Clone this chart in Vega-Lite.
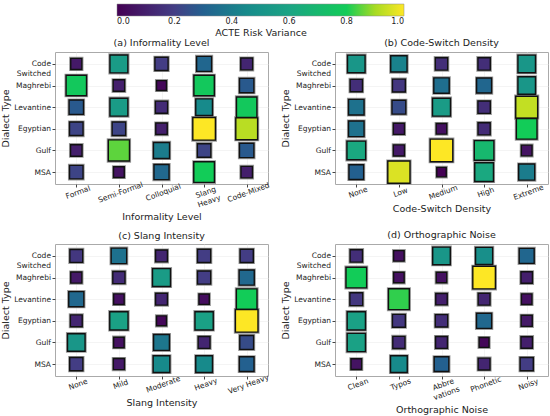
{
  "$schema": "https://vega.github.io/schema/vega-lite/v6.json",
  "padding": {"left": 0, "top": 4, "right": 4, "bottom": 2},
  "autosize": {"type": "pad"},
  "config": {
    "font": "DejaVu Sans",
    "view": {"stroke": "#aaaaaa", "strokeWidth": 1},
    "axis": {"domain": false, "grid": true, "gridColor": "#ececec", "gridWidth": 0.6, "tickColor": "#444444", "tickSize": 3, "labelFontSize": 7.5, "labelColor": "#222222", "titleFontSize": 9.5, "titleFontWeight": "normal", "titleColor": "#222222", "labelPadding": 1.5, "titlePadding": 3},
    "title": {"fontSize": 9.5, "fontWeight": "normal", "offset": 1, "color": "#222222"}
  },
  "data": {"values": [
    {"panel": "a", "level": "Formal", "dialect": "Code Switched", "variance": 0.08},
    {"panel": "a", "level": "Semi-Formal", "dialect": "Code Switched", "variance": 0.55},
    {"panel": "a", "level": "Colloquial", "dialect": "Code Switched", "variance": 0.2},
    {"panel": "a", "level": "Slang Heavy", "dialect": "Code Switched", "variance": 0.32},
    {"panel": "a", "level": "Code-Mixed", "dialect": "Code Switched", "variance": 0.12},
    {"panel": "a", "level": "Formal", "dialect": "Maghrebi", "variance": 0.78},
    {"panel": "a", "level": "Semi-Formal", "dialect": "Maghrebi", "variance": 0.1},
    {"panel": "a", "level": "Colloquial", "dialect": "Maghrebi", "variance": 0.02},
    {"panel": "a", "level": "Slang Heavy", "dialect": "Maghrebi", "variance": 0.78},
    {"panel": "a", "level": "Code-Mixed", "dialect": "Maghrebi", "variance": 0.28},
    {"panel": "a", "level": "Formal", "dialect": "Levantine", "variance": 0.28},
    {"panel": "a", "level": "Semi-Formal", "dialect": "Levantine", "variance": 0.55},
    {"panel": "a", "level": "Colloquial", "dialect": "Levantine", "variance": 0.14},
    {"panel": "a", "level": "Slang Heavy", "dialect": "Levantine", "variance": 0.45},
    {"panel": "a", "level": "Code-Mixed", "dialect": "Levantine", "variance": 0.78},
    {"panel": "a", "level": "Formal", "dialect": "Egyptian", "variance": 0.22},
    {"panel": "a", "level": "Semi-Formal", "dialect": "Egyptian", "variance": 0.22},
    {"panel": "a", "level": "Colloquial", "dialect": "Egyptian", "variance": 0.1},
    {"panel": "a", "level": "Slang Heavy", "dialect": "Egyptian", "variance": 1.0},
    {"panel": "a", "level": "Code-Mixed", "dialect": "Egyptian", "variance": 0.92},
    {"panel": "a", "level": "Formal", "dialect": "Gulf", "variance": 0.1},
    {"panel": "a", "level": "Semi-Formal", "dialect": "Gulf", "variance": 0.85},
    {"panel": "a", "level": "Colloquial", "dialect": "Gulf", "variance": 0.4},
    {"panel": "a", "level": "Slang Heavy", "dialect": "Gulf", "variance": 0.22},
    {"panel": "a", "level": "Code-Mixed", "dialect": "Gulf", "variance": 0.28},
    {"panel": "a", "level": "Formal", "dialect": "MSA", "variance": 0.22},
    {"panel": "a", "level": "Semi-Formal", "dialect": "MSA", "variance": 0.06},
    {"panel": "a", "level": "Colloquial", "dialect": "MSA", "variance": 0.33},
    {"panel": "a", "level": "Slang Heavy", "dialect": "MSA", "variance": 0.8},
    {"panel": "a", "level": "Code-Mixed", "dialect": "MSA", "variance": 0.1},

    {"panel": "b", "level": "None", "dialect": "Code Switched", "variance": 0.52},
    {"panel": "b", "level": "Low", "dialect": "Code Switched", "variance": 0.42},
    {"panel": "b", "level": "Medium", "dialect": "Code Switched", "variance": 0.15},
    {"panel": "b", "level": "High", "dialect": "Code Switched", "variance": 0.15},
    {"panel": "b", "level": "Extreme", "dialect": "Code Switched", "variance": 0.52},
    {"panel": "b", "level": "None", "dialect": "Maghrebi", "variance": 0.15},
    {"panel": "b", "level": "Low", "dialect": "Maghrebi", "variance": 0.18},
    {"panel": "b", "level": "Medium", "dialect": "Maghrebi", "variance": 0.35},
    {"panel": "b", "level": "High", "dialect": "Maghrebi", "variance": 0.32},
    {"panel": "b", "level": "Extreme", "dialect": "Maghrebi", "variance": 0.52},
    {"panel": "b", "level": "None", "dialect": "Levantine", "variance": 0.36},
    {"panel": "b", "level": "Low", "dialect": "Levantine", "variance": 0.24},
    {"panel": "b", "level": "Medium", "dialect": "Levantine", "variance": 0.55},
    {"panel": "b", "level": "High", "dialect": "Levantine", "variance": 0.15},
    {"panel": "b", "level": "Extreme", "dialect": "Levantine", "variance": 0.93},
    {"panel": "b", "level": "None", "dialect": "Egyptian", "variance": 0.36},
    {"panel": "b", "level": "Low", "dialect": "Egyptian", "variance": 0.08},
    {"panel": "b", "level": "Medium", "dialect": "Egyptian", "variance": 0.05},
    {"panel": "b", "level": "High", "dialect": "Egyptian", "variance": 0.14},
    {"panel": "b", "level": "Extreme", "dialect": "Egyptian", "variance": 0.8},
    {"panel": "b", "level": "None", "dialect": "Gulf", "variance": 0.62},
    {"panel": "b", "level": "Low", "dialect": "Gulf", "variance": 0.08},
    {"panel": "b", "level": "Medium", "dialect": "Gulf", "variance": 1.0},
    {"panel": "b", "level": "High", "dialect": "Gulf", "variance": 0.7},
    {"panel": "b", "level": "Extreme", "dialect": "Gulf", "variance": 0.06},
    {"panel": "b", "level": "None", "dialect": "MSA", "variance": 0.3},
    {"panel": "b", "level": "Low", "dialect": "MSA", "variance": 0.96},
    {"panel": "b", "level": "Medium", "dialect": "MSA", "variance": 0.0},
    {"panel": "b", "level": "High", "dialect": "MSA", "variance": 0.62},
    {"panel": "b", "level": "Extreme", "dialect": "MSA", "variance": 0.4},

    {"panel": "c", "level": "None", "dialect": "Code Switched", "variance": 0.18},
    {"panel": "c", "level": "Mild", "dialect": "Code Switched", "variance": 0.36},
    {"panel": "c", "level": "Moderate", "dialect": "Code Switched", "variance": 0.12},
    {"panel": "c", "level": "Heavy", "dialect": "Code Switched", "variance": 0.2},
    {"panel": "c", "level": "Very Heavy", "dialect": "Code Switched", "variance": 0.2},
    {"panel": "c", "level": "None", "dialect": "Maghrebi", "variance": 0.08},
    {"panel": "c", "level": "Mild", "dialect": "Maghrebi", "variance": 0.14},
    {"panel": "c", "level": "Moderate", "dialect": "Maghrebi", "variance": 0.55},
    {"panel": "c", "level": "Heavy", "dialect": "Maghrebi", "variance": 0.2},
    {"panel": "c", "level": "Very Heavy", "dialect": "Maghrebi", "variance": 0.33},
    {"panel": "c", "level": "None", "dialect": "Levantine", "variance": 0.33},
    {"panel": "c", "level": "Mild", "dialect": "Levantine", "variance": 0.05},
    {"panel": "c", "level": "Moderate", "dialect": "Levantine", "variance": 0.12},
    {"panel": "c", "level": "Heavy", "dialect": "Levantine", "variance": 0.04},
    {"panel": "c", "level": "Very Heavy", "dialect": "Levantine", "variance": 0.8},
    {"panel": "c", "level": "None", "dialect": "Egyptian", "variance": 0.12},
    {"panel": "c", "level": "Mild", "dialect": "Egyptian", "variance": 0.58},
    {"panel": "c", "level": "Moderate", "dialect": "Egyptian", "variance": 0.02},
    {"panel": "c", "level": "Heavy", "dialect": "Egyptian", "variance": 0.58},
    {"panel": "c", "level": "Very Heavy", "dialect": "Egyptian", "variance": 1.0},
    {"panel": "c", "level": "None", "dialect": "Gulf", "variance": 0.52},
    {"panel": "c", "level": "Mild", "dialect": "Gulf", "variance": 0.05},
    {"panel": "c", "level": "Moderate", "dialect": "Gulf", "variance": 0.38},
    {"panel": "c", "level": "Heavy", "dialect": "Gulf", "variance": 0.12},
    {"panel": "c", "level": "Very Heavy", "dialect": "Gulf", "variance": 0.24},
    {"panel": "c", "level": "None", "dialect": "MSA", "variance": 0.2},
    {"panel": "c", "level": "Mild", "dialect": "MSA", "variance": 0.08},
    {"panel": "c", "level": "Moderate", "dialect": "MSA", "variance": 0.45},
    {"panel": "c", "level": "Heavy", "dialect": "MSA", "variance": 0.45},
    {"panel": "c", "level": "Very Heavy", "dialect": "MSA", "variance": 0.3},

    {"panel": "d", "level": "Clean", "dialect": "Code Switched", "variance": 0.15},
    {"panel": "d", "level": "Typos", "dialect": "Code Switched", "variance": 0.05},
    {"panel": "d", "level": "Abbreviations", "dialect": "Code Switched", "variance": 0.52},
    {"panel": "d", "level": "Phonetic", "dialect": "Code Switched", "variance": 0.48},
    {"panel": "d", "level": "Noisy", "dialect": "Code Switched", "variance": 0.32},
    {"panel": "d", "level": "Clean", "dialect": "Maghrebi", "variance": 0.8},
    {"panel": "d", "level": "Typos", "dialect": "Maghrebi", "variance": 0.05},
    {"panel": "d", "level": "Abbreviations", "dialect": "Maghrebi", "variance": 0.05},
    {"panel": "d", "level": "Phonetic", "dialect": "Maghrebi", "variance": 1.0},
    {"panel": "d", "level": "Noisy", "dialect": "Maghrebi", "variance": 0.1},
    {"panel": "d", "level": "Clean", "dialect": "Levantine", "variance": 0.18},
    {"panel": "d", "level": "Typos", "dialect": "Levantine", "variance": 0.82},
    {"panel": "d", "level": "Abbreviations", "dialect": "Levantine", "variance": 0.1},
    {"panel": "d", "level": "Phonetic", "dialect": "Levantine", "variance": 0.12},
    {"panel": "d", "level": "Noisy", "dialect": "Levantine", "variance": 0.05},
    {"panel": "d", "level": "Clean", "dialect": "Egyptian", "variance": 0.58},
    {"panel": "d", "level": "Typos", "dialect": "Egyptian", "variance": 0.18},
    {"panel": "d", "level": "Abbreviations", "dialect": "Egyptian", "variance": 0.15},
    {"panel": "d", "level": "Phonetic", "dialect": "Egyptian", "variance": 0.33},
    {"panel": "d", "level": "Noisy", "dialect": "Egyptian", "variance": 0.08},
    {"panel": "d", "level": "Clean", "dialect": "Gulf", "variance": 0.58},
    {"panel": "d", "level": "Typos", "dialect": "Gulf", "variance": 0.14},
    {"panel": "d", "level": "Abbreviations", "dialect": "Gulf", "variance": 0.12},
    {"panel": "d", "level": "Phonetic", "dialect": "Gulf", "variance": 0.02},
    {"panel": "d", "level": "Noisy", "dialect": "Gulf", "variance": 0.1},
    {"panel": "d", "level": "Clean", "dialect": "MSA", "variance": 0.06},
    {"panel": "d", "level": "Typos", "dialect": "MSA", "variance": 0.45},
    {"panel": "d", "level": "Abbreviations", "dialect": "MSA", "variance": 0.3},
    {"panel": "d", "level": "Phonetic", "dialect": "MSA", "variance": 0.12},
    {"panel": "d", "level": "Noisy", "dialect": "MSA", "variance": 0.2}
  ]},
  "columns": 2,
  "spacing": {"row": 7, "column": 9},
  "resolve": {"scale": {"x": "independent", "y": "independent", "color": "shared", "size": "shared"}},
  "concat": [
    {
      "title": "(a) Informality Level",
      "width": 213, "height": 132,
      "transform": [{"filter": "datum.panel == 'a'"}],
      "encoding": {
        "x": {"field": "level", "type": "nominal", "sort": ["Formal", "Semi-Formal", "Colloquial", "Slang Heavy", "Code-Mixed"], "scale": {"type": "point", "padding": 0.5}, "axis": {"title": "Informality Level", "labelAngle": -20, "labelAlign": "center", "labelBaseline": "top", "labelExpr": "datum.label == 'Slang Heavy' ? ['Slang', 'Heavy'] : datum.label"}},
        "y": {"field": "dialect", "type": "nominal", "sort": ["Code Switched", "Maghrebi", "Levantine", "Egyptian", "Gulf", "MSA"], "scale": {"type": "point", "padding": 0.55}, "axis": {"title": "Dialect Type", "labelExpr": "datum.label == 'Code Switched' ? ['Code', 'Switched'] : datum.label"}},
        "size": {"field": "variance", "type": "quantitative", "scale": {"domain": [0, 1], "range": [90, 510]}, "legend": null},
        "color": {"field": "variance", "type": "quantitative", "scale": {"domain": [0, 0.2, 0.3, 0.45, 0.6, 0.8, 0.9, 1], "range": ["#440154", "#433d84", "#23608f", "#178a8b", "#1ba484", "#12cc58", "#a8db22", "#fde725"], "interpolate": "rgb"},
          "legend": {"orient": "none", "legendX": 62, "legendY": -48, "direction": "horizontal", "gradientLength": 287, "gradientThickness": 12, "gradientStrokeColor": "#888888", "gradientStrokeWidth": 0.5, "title": "ACTE Risk Variance", "titleOrient": "bottom", "titleAnchor": "middle", "titleFontSize": 9.5, "titleFontWeight": "normal", "titleColor": "#222222", "titlePadding": 2, "values": [0, 0.2, 0.4, 0.6, 0.8, 1], "format": ".1f", "labelFontSize": 8, "labelAlign": "center", "labelColor": "#222222", "padding": 0}}
      },
      "layer": [
        {"mark": {"type": "square", "filled": true, "opacity": 1, "stroke": "#9a9a9a", "strokeWidth": 3.2}},
        {"mark": {"type": "square", "filled": true, "opacity": 1, "stroke": "#111111", "strokeWidth": 1.4}}
      ]
    },
    {
      "title": "(b) Code-Switch Density",
      "width": 213, "height": 132,
      "transform": [{"filter": "datum.panel == 'b'"}],
      "encoding": {
        "x": {"field": "level", "type": "nominal", "sort": ["None", "Low", "Medium", "High", "Extreme"], "scale": {"type": "point", "padding": 0.5}, "axis": {"title": "Code-Switch Density", "labelAngle": -20, "labelAlign": "center", "labelBaseline": "top"}},
        "y": {"field": "dialect", "type": "nominal", "sort": ["Code Switched", "Maghrebi", "Levantine", "Egyptian", "Gulf", "MSA"], "scale": {"type": "point", "padding": 0.55}, "axis": {"title": "Dialect Type", "labelExpr": "datum.label == 'Code Switched' ? ['Code', 'Switched'] : datum.label"}},
        "size": {"field": "variance", "type": "quantitative", "scale": {"domain": [0, 1], "range": [90, 510]}, "legend": null},
        "color": {"field": "variance", "type": "quantitative", "scale": {"domain": [0, 0.2, 0.3, 0.45, 0.6, 0.8, 0.9, 1], "range": ["#440154", "#433d84", "#23608f", "#178a8b", "#1ba484", "#12cc58", "#a8db22", "#fde725"], "interpolate": "rgb"},
          "legend": {"orient": "none", "legendX": 62, "legendY": -48, "direction": "horizontal", "gradientLength": 287, "gradientThickness": 12, "gradientStrokeColor": "#888888", "gradientStrokeWidth": 0.5, "title": "ACTE Risk Variance", "titleOrient": "bottom", "titleAnchor": "middle", "titleFontSize": 9.5, "titleFontWeight": "normal", "titleColor": "#222222", "titlePadding": 2, "values": [0, 0.2, 0.4, 0.6, 0.8, 1], "format": ".1f", "labelFontSize": 8, "labelAlign": "center", "labelColor": "#222222", "padding": 0}}
      },
      "layer": [
        {"mark": {"type": "square", "filled": true, "opacity": 1, "stroke": "#9a9a9a", "strokeWidth": 3.2}},
        {"mark": {"type": "square", "filled": true, "opacity": 1, "stroke": "#111111", "strokeWidth": 1.4}}
      ]
    },
    {
      "title": "(c) Slang Intensity",
      "width": 213, "height": 132,
      "transform": [{"filter": "datum.panel == 'c'"}],
      "encoding": {
        "x": {"field": "level", "type": "nominal", "sort": ["None", "Mild", "Moderate", "Heavy", "Very Heavy"], "scale": {"type": "point", "padding": 0.5}, "axis": {"title": "Slang Intensity", "labelAngle": -20, "labelAlign": "center", "labelBaseline": "top"}},
        "y": {"field": "dialect", "type": "nominal", "sort": ["Code Switched", "Maghrebi", "Levantine", "Egyptian", "Gulf", "MSA"], "scale": {"type": "point", "padding": 0.55}, "axis": {"title": "Dialect Type", "labelExpr": "datum.label == 'Code Switched' ? ['Code', 'Switched'] : datum.label"}},
        "size": {"field": "variance", "type": "quantitative", "scale": {"domain": [0, 1], "range": [90, 510]}, "legend": null},
        "color": {"field": "variance", "type": "quantitative", "scale": {"domain": [0, 0.2, 0.3, 0.45, 0.6, 0.8, 0.9, 1], "range": ["#440154", "#433d84", "#23608f", "#178a8b", "#1ba484", "#12cc58", "#a8db22", "#fde725"], "interpolate": "rgb"},
          "legend": {"orient": "none", "legendX": 62, "legendY": -48, "direction": "horizontal", "gradientLength": 287, "gradientThickness": 12, "gradientStrokeColor": "#888888", "gradientStrokeWidth": 0.5, "title": "ACTE Risk Variance", "titleOrient": "bottom", "titleAnchor": "middle", "titleFontSize": 9.5, "titleFontWeight": "normal", "titleColor": "#222222", "titlePadding": 2, "values": [0, 0.2, 0.4, 0.6, 0.8, 1], "format": ".1f", "labelFontSize": 8, "labelAlign": "center", "labelColor": "#222222", "padding": 0}}
      },
      "layer": [
        {"mark": {"type": "square", "filled": true, "opacity": 1, "stroke": "#9a9a9a", "strokeWidth": 3.2}},
        {"mark": {"type": "square", "filled": true, "opacity": 1, "stroke": "#111111", "strokeWidth": 1.4}}
      ]
    },
    {
      "title": "(d) Orthographic Noise",
      "width": 213, "height": 132,
      "transform": [{"filter": "datum.panel == 'd'"}],
      "encoding": {
        "x": {"field": "level", "type": "nominal", "sort": ["Clean", "Typos", "Abbreviations", "Phonetic", "Noisy"], "scale": {"type": "point", "padding": 0.5}, "axis": {"title": "Orthographic Noise", "labelAngle": -20, "labelAlign": "center", "labelBaseline": "top", "labelExpr": "datum.label == 'Abbreviations' ? ['Abbre', 'vations'] : datum.label"}},
        "y": {"field": "dialect", "type": "nominal", "sort": ["Code Switched", "Maghrebi", "Levantine", "Egyptian", "Gulf", "MSA"], "scale": {"type": "point", "padding": 0.55}, "axis": {"title": "Dialect Type", "labelExpr": "datum.label == 'Code Switched' ? ['Code', 'Switched'] : datum.label"}},
        "size": {"field": "variance", "type": "quantitative", "scale": {"domain": [0, 1], "range": [90, 510]}, "legend": null},
        "color": {"field": "variance", "type": "quantitative", "scale": {"domain": [0, 0.2, 0.3, 0.45, 0.6, 0.8, 0.9, 1], "range": ["#440154", "#433d84", "#23608f", "#178a8b", "#1ba484", "#12cc58", "#a8db22", "#fde725"], "interpolate": "rgb"},
          "legend": {"orient": "none", "legendX": 62, "legendY": -48, "direction": "horizontal", "gradientLength": 287, "gradientThickness": 12, "gradientStrokeColor": "#888888", "gradientStrokeWidth": 0.5, "title": "ACTE Risk Variance", "titleOrient": "bottom", "titleAnchor": "middle", "titleFontSize": 9.5, "titleFontWeight": "normal", "titleColor": "#222222", "titlePadding": 2, "values": [0, 0.2, 0.4, 0.6, 0.8, 1], "format": ".1f", "labelFontSize": 8, "labelAlign": "center", "labelColor": "#222222", "padding": 0}}
      },
      "layer": [
        {"mark": {"type": "square", "filled": true, "opacity": 1, "stroke": "#9a9a9a", "strokeWidth": 3.2}},
        {"mark": {"type": "square", "filled": true, "opacity": 1, "stroke": "#111111", "strokeWidth": 1.4}}
      ]
    }
  ]
}
